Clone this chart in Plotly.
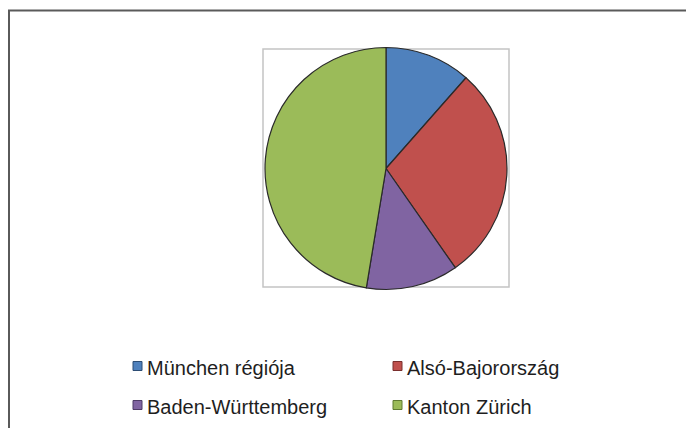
import plotly.graph_objects as go

# ---- data ----
regions = ["München régiója", "Alsó-Bajorország", "Baden-Württemberg", "Kanton Zürich"]
shares = [11.5, 28.8, 12.3, 47.4]
colors = ["#4F81BD", "#C0504D", "#8064A2", "#9BBB59"]
edge_colors = ["#2c4d74", "#7a2f2d", "#4d3a66", "#5f7a33"]

W, H = 694, 428
OFF = 8  # page body margin in the browser view


def px(x):
    return (x - OFF) / W


def py(y):
    return 1 - (y - OFF) / H


# pie placement (page pixels)
cx, cy, r = 386, 168.5, 121

fig = go.Figure(
    go.Pie(
        labels=regions,
        values=shares,
        sort=False,
        direction="clockwise",
        rotation=0,
        marker=dict(colors=colors, line=dict(color="#2a2a2a", width=1.2)),
        textinfo="none",
        hoverinfo="label+percent",
        showlegend=False,
        domain=dict(x=[px(cx - r), px(cx + r)], y=[py(cy + r), py(cy - r)]),
    )
)

shapes = []
# light frame around the pie (plot area)
shapes.append(dict(type="rect", xref="paper", yref="paper",
                   x0=px(263), x1=px(509), y0=py(287), y1=py(49),
                   line=dict(color="#c4c4c4", width=1.5), layer="below"))
# outer chart border: top and left edges visible
shapes.append(dict(type="path", xref="paper", yref="paper",
                   path=f"M {px(9)} {py(450)} L {px(9)} {py(10.5)} L {px(720)} {py(10.5)}",
                   line=dict(color="#5a5a5a", width=2)))

annotations = []
col_x = [133, 393]
row_y = [366, 405]
for i, (name, c, ec) in enumerate(zip(regions, colors, edge_colors)):
    mx = col_x[i % 2]
    my = row_y[i // 2]
    shapes.append(dict(type="rect", xref="paper", yref="paper",
                       x0=px(mx), x1=px(mx + 9), y0=py(my + 4.5), y1=py(my - 4.5),
                       fillcolor=c, line=dict(color=ec, width=1)))
    annotations.append(dict(text=name, xref="paper", yref="paper",
                            x=px(mx + 12), y=py(my + 1.5), xanchor="left", yanchor="middle",
                            showarrow=False,
                            font=dict(family="Liberation Sans, Arial, sans-serif",
                                      size=20, color="#1e1e1e")))

fig.update_layout(
    width=W, height=H,
    margin=dict(l=0, r=0, t=0, b=0),
    paper_bgcolor="white",
    plot_bgcolor="white",
    shapes=shapes,
    annotations=annotations,
)

fig.write_html("out.html")
